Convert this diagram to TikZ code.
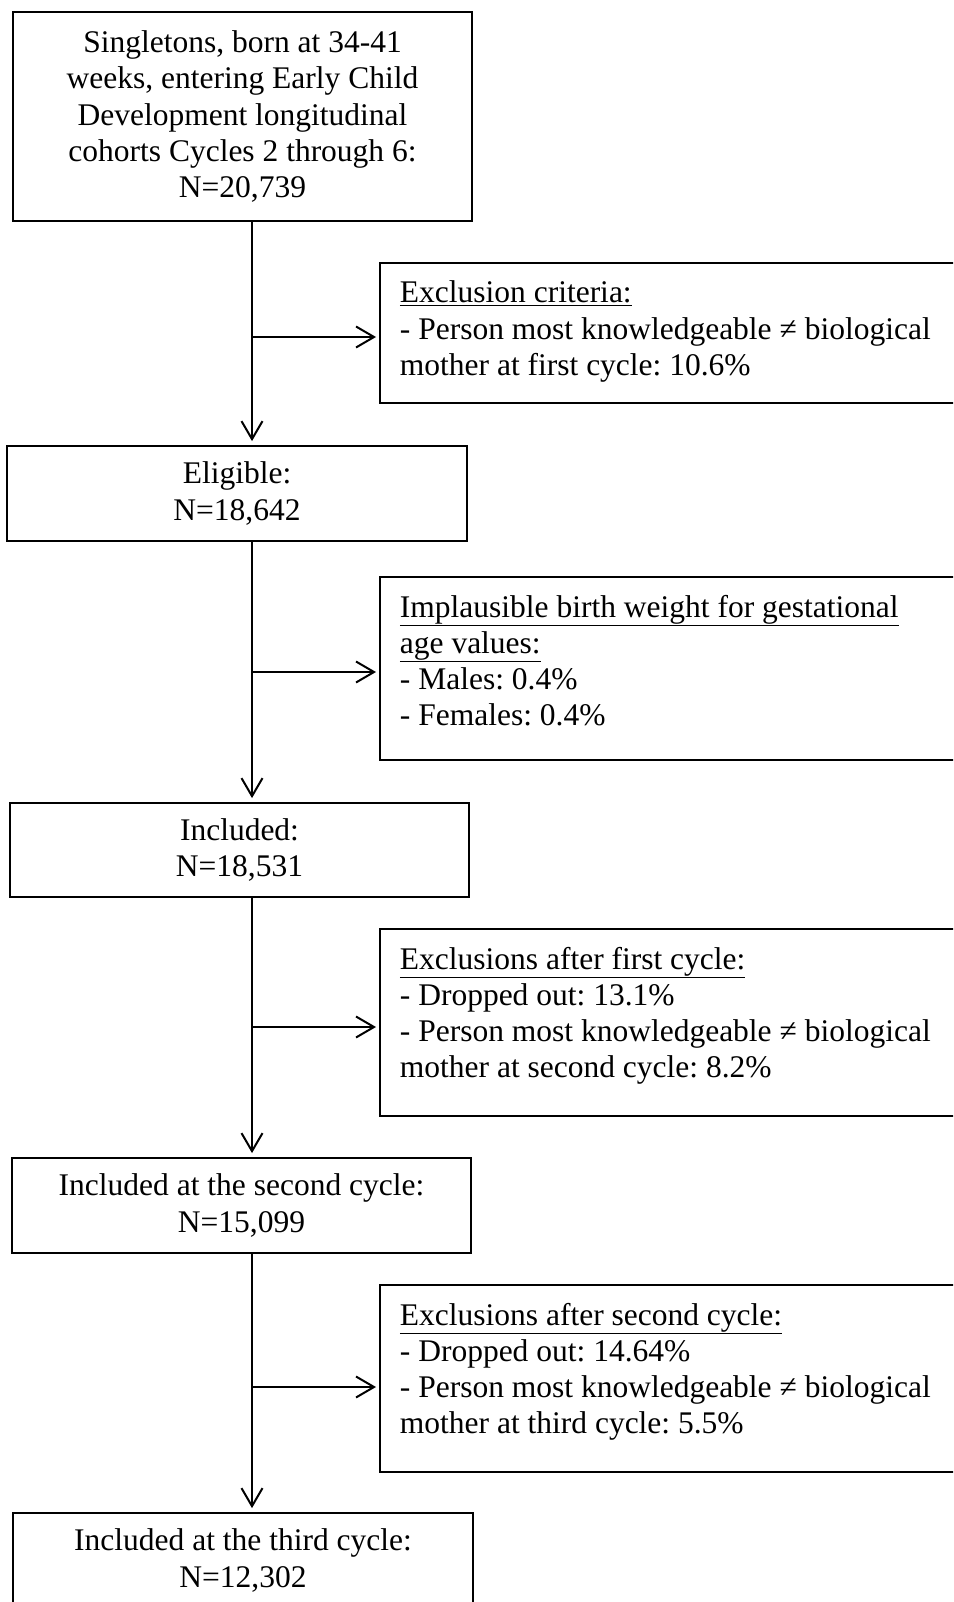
\documentclass[tikz,border=0pt]{standalone}
\usepackage{fontspec}
\setmainfont{Liberation Serif}
\usepackage{tikz}
\usetikzlibrary{arrows.meta}
\frenchspacing
\newcommand{\exclbox}[2]{\begin{minipage}[c][#1][t]{561pt}\raggedright\vspace{18pt}#2\end{minipage}}

\begin{document}
\begin{tikzpicture}[x=1pt, y=-1pt, >={Straight Barb[length=18pt,width=21pt]}, every node/.style={font=\fontsize{31.5}{36.2}\selectfont}]
  \tikzstyle{stage}=[rectangle, draw, line width=1.8pt, inner sep=0pt, align=center, minimum width=459pt, minimum height=95pt]
  \tikzstyle{excl}=[rectangle, draw, line width=1.8pt, anchor=west, inner xsep=20pt, inner ysep=0pt]
  \tikzstyle{flow}=[->, line width=2pt, shorten >=3pt]
  \useasboundingbox (0,0) rectangle (953,1602);
  \clip (0,0) rectangle (953,1602);
  % main column
  \node[stage, minimum height=209pt] (start) at (242.5,116.5) {Singletons, born at 34-41\\weeks, entering Early Child\\Development longitudinal\\cohorts Cycles 2 through 6:\\N=20,739};
  \node[stage, minimum width=460pt] (elig) at (237,493.5) {Eligible:\\N=18,642};
  \node[stage, minimum height=94pt] (incl) at (239.5,850) {Included:\\N=18,531};
  \node[stage] (second) at (241.5,1205.5) {Included at the second cycle:\\N=15,099};
  \node[stage, minimum width=460pt] (third) at (243,1560.5) {Included at the third cycle:\\N=12,302};
  % exclusions on the right
  \node[excl] (ex1) at (379,333) {\exclbox{140pt}{\underline{Exclusion criteria:}\\- Person most knowledgeable ≠ biological\\mother at first cycle: 10.6\%}};
  \node[excl] (ex2) at (379,668.5) {\exclbox{183pt}{\underline{Implausible birth weight for gestational}\\\underline{age values:}\\- Males: 0.4\%\\- Females: 0.4\%}};
  \node[excl] (ex3) at (379,1022.5) {\exclbox{187pt}{\underline{Exclusions after first cycle:}\\- Dropped out: 13.1\%\\- Person most knowledgeable ≠ biological\\mother at second cycle: 8.2\%}};
  \node[excl] (ex4) at (379,1378.5) {\exclbox{187pt}{\underline{Exclusions after second cycle:}\\- Dropped out: 14.64\%\\- Person most knowledgeable ≠ biological\\mother at third cycle: 5.5\%}};
  % spine and branch points
  \coordinate (spine) at (252,0);
  \coordinate (j1) at (252,337);
  \coordinate (j2) at (252,672);
  \coordinate (j3) at (252,1027);
  \coordinate (j4) at (252,1387);
  \draw[flow, shorten >=4pt] (start.south -| spine) -- (elig.north -| spine);
  \draw[flow, shorten >=4pt] (elig.south -| spine) -- (incl.north -| spine);
  \draw[flow, shorten >=4pt] (incl.south -| spine) -- (second.north -| spine);
  \draw[flow, shorten >=4pt] (second.south -| spine) -- (third.north -| spine);
  \draw[flow] (j1) -- (ex1.west |- j1);
  \draw[flow] (j2) -- (ex2.west |- j2);
  \draw[flow] (j3) -- (ex3.west |- j3);
  \draw[flow] (j4) -- (ex4.west |- j4);
\end{tikzpicture}
\end{document}
